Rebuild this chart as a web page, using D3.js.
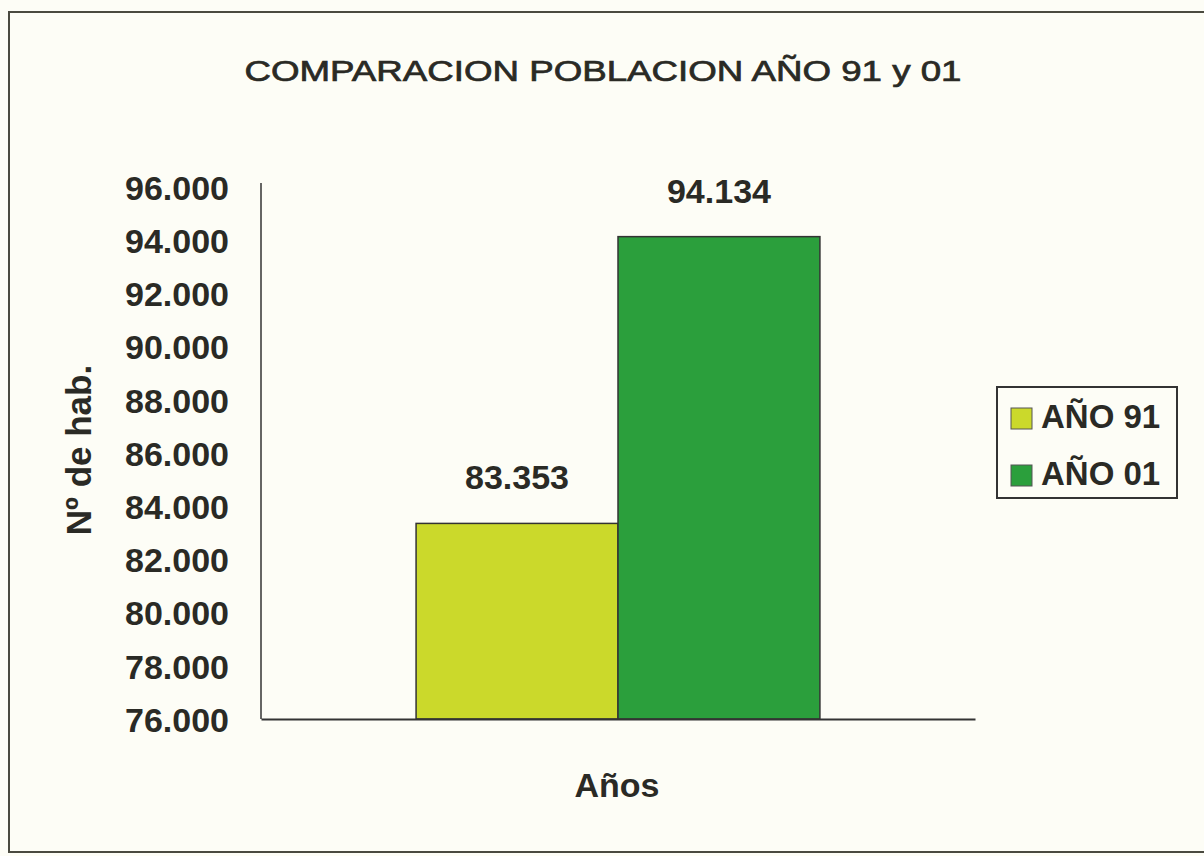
<!DOCTYPE html>
<html><head><meta charset="utf-8">
<script src="https://cdn.jsdelivr.net/npm/d3@7"></script>
<style>body{margin:0;background:#fdfdf6}svg{display:block}text{font-family:"Liberation Sans",Arial,sans-serif;fill:#2a2a25}</style>
</head><body><svg id="c" width="1204" height="856"></svg>
<script>
const categories = ["Años"];
const seriesNames = ["AÑO 91", "AÑO 01"];
const seriesValues = [83353, 94134];
const seriesColors = ["#cbd92b", "#2b9f3c"];
const yTicks = [76000, 78000, 80000, 82000, 84000, 86000, 88000, 90000, 92000, 94000, 96000];
const title = "COMPARACION POBLACION AÑO 91 y 01";
const yTitle = "Nº de hab.";

const svg = d3.select("#c");
const loc = d3.formatLocale({decimal: ",", thousands: ".", grouping: [3], currency: ["", ""]});
const fmt = loc.format(",.0f");

svg.append("rect").attr("x", 0).attr("y", 0).attr("width", 1204).attr("height", 856).attr("fill", "#fdfdf6");
svg.append("rect").attr("x", 9).attr("y", 12).attr("width", 1200).attr("height", 840)
  .attr("fill", "none").attr("stroke", "#4a4a40").attr("stroke-width", 2);

const pLeft = 261, pRight = 975, pTop = 187, pBottom = 719;
const y = d3.scaleLinear().domain([76000, 96000]).range([pBottom, pTop]);
const x0 = d3.scaleBand().domain(categories).range([pLeft, pRight]).paddingInner(0).paddingOuter(0.384);
const x1 = d3.scaleBand().domain(seriesNames).range([0, x0.bandwidth()]);

svg.append("text").attr("x", 603).attr("y", 81).attr("text-anchor", "middle")
  .attr("font-size", 29).attr("stroke", "#2a2a25").attr("stroke-width", 0.7)
  .attr("textLength", 717).attr("lengthAdjust", "spacingAndGlyphs").text(title);

const yAxis = svg.append("g").attr("transform", `translate(${pLeft},0)`)
  .call(d3.axisLeft(y).tickValues(yTicks).tickFormat(fmt).tickSize(0).tickPadding(32));
yAxis.select(".domain").attr("stroke", "#333").attr("stroke-width", 1.5).attr("d", `M0,${y(96000)-4}V${pBottom}`);
yAxis.selectAll("text").attr("font-size", 34).attr("font-weight", "bold").attr("fill", "#2a2a25")
  .attr("font-family", '"Liberation Sans",Arial,sans-serif').attr("dy", "0.36em");

// bars
const g = svg.append("g");
categories.forEach(c => {
  seriesNames.forEach((s, i) => {
    g.append("rect").attr("x", x0(c) + x1(s)).attr("y", y(seriesValues[i]))
      .attr("width", x1.bandwidth()).attr("height", pBottom - y(seriesValues[i]))
      .attr("fill", seriesColors[i]).attr("stroke", "#333").attr("stroke-width", 1.5);
    g.append("text").attr("x", x0(c) + x1(s) + x1.bandwidth() / 2).attr("y", y(seriesValues[i]) - 34)
      .attr("text-anchor", "middle").attr("font-size", 34).attr("font-weight", "bold")
      .text(fmt(seriesValues[i]));
  });
});

const xAxis = svg.append("g").attr("transform", `translate(0,${pBottom})`)
  .call(d3.axisBottom(x0).tickSize(0).tickFormat(""));
xAxis.select(".domain").attr("stroke", "#333").attr("stroke-width", 2);

svg.append("text").attr("x", 617).attr("y", 797).attr("text-anchor", "middle")
  .attr("font-size", 34).attr("font-weight", "bold").text(categories[0]);

svg.append("text").attr("transform", "translate(91,450) rotate(-90)").attr("text-anchor", "middle")
  .attr("font-size", 35).attr("font-weight", "bold").text(yTitle);

// legend
const lg = svg.append("g");
lg.append("rect").attr("x", 997).attr("y", 387).attr("width", 180).attr("height", 111)
  .attr("fill", "#fdfdf6").attr("stroke", "#333").attr("stroke-width", 2);
seriesNames.forEach((s, i) => {
  const yy = 428 + i * 57;
  lg.append("rect").attr("x", 1011).attr("y", yy - 20).attr("width", 21).attr("height", 21)
    .attr("fill", seriesColors[i]).attr("stroke", "#555").attr("stroke-width", 1);
  lg.append("text").attr("x", 1041).attr("y", yy).attr("font-size", 33).attr("font-weight", "bold").text(s);
});
</script></body></html>
